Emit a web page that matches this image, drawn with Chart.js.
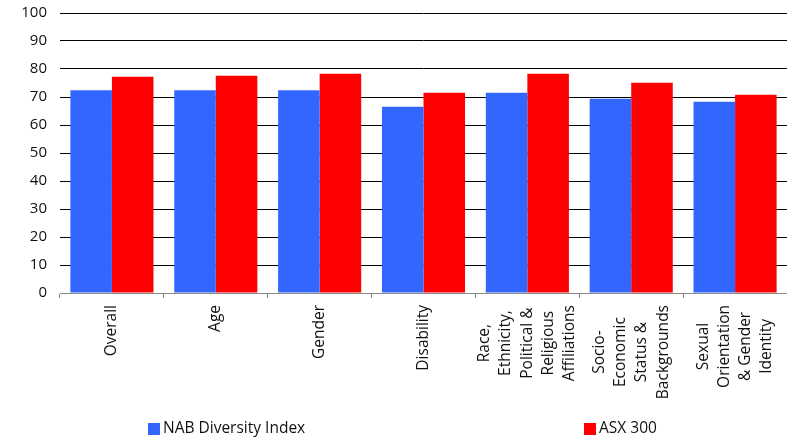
<!DOCTYPE html>
<html>
<head>
<meta charset="utf-8">
<title>Diversity Index</title>
<script src="https://cdn.jsdelivr.net/npm/chart.js@4.4.1/dist/chart.umd.min.js"></script>
<style>
    html, body { margin: 0; padding: 0; background: #fff; }
    #wrap { width: 787px; height: 440px; position: relative; }
</style>
</head>
<body>
<div id="wrap"><canvas id="diversityChart"></canvas></div>
<script>
// Categories (multi-line ones are split where the axis wraps them)
const categories = [
    'Overall',
    'Age',
    'Gender',
    'Disability',
    ['Race,', 'Ethnicity,', 'Political &', 'Religious', 'Affiliations'],
    ['Socio-', 'Economic', 'Status &', 'Backgrounds'],
    ['Sexual', 'Orientation', '& Gender', 'Identity']
];

const nabIndex = [72.4, 72.4, 72.4, 66.5, 71.5, 69.4, 68.3];
const asx300 = [77.2, 77.6, 78.3, 71.5, 78.3, 75.1, 70.8];

const seriesNames = ['NAB Diversity Index', 'ASX 300'];
const seriesColors = ['#3366FF', '#FF0000'];

const yTicks = [0, 10, 20, 30, 40, 50, 60, 70, 80, 90, 100];

const FONT = '"Open Sans", "DejaVu Sans", sans-serif';

// Vertical category labels: block hangs from the axis, lines centred on each other
const verticalLabels = {
    id: 'verticalLabels',
    afterDraw(chart, args, opts) {
        const scale = chart.scales.x;
        const ctx = chart.ctx;
        const top = scale.top + opts.gap;
        ctx.save();
        ctx.font = opts.size + 'px ' + FONT;
        ctx.fillStyle = '#111';
        ctx.textAlign = 'center';
        ctx.textBaseline = 'middle';
        chart.data.labels.forEach((label, i) => {
            const lines = Array.isArray(label) ? label : [label];
            const widest = Math.max(...lines.map(l => ctx.measureText(l).width));
            const cx = scale.getPixelForValue(i);
            const cy = top + widest / 2;
            lines.forEach((line, j) => {
                const x = cx + (j - (lines.length - 1) / 2) * opts.lineHeight;
                ctx.save();
                ctx.translate(x, cy);
                ctx.rotate(-Math.PI / 2);
                ctx.fillText(line, 0, 0);
                ctx.restore();
            });
        });
        ctx.restore();
    }
};

// Legend spread across the bottom with wide gaps between the two items
const spreadLegend = {
    id: 'spreadLegend',
    afterDraw(chart, args, opts) {
        const ctx = chart.ctx;
        ctx.save();
        ctx.font = '15.5px ' + FONT;
        ctx.textBaseline = 'middle';
        chart.data.datasets.forEach((ds, i) => {
            const x = opts.xs[i];
            const y = opts.y;
            ctx.fillStyle = ds.backgroundColor;
            ctx.fillRect(x, y - 6, 12, 12);
            ctx.fillStyle = '#111';
            ctx.fillText(ds.label, x + 15, y);
        });
        ctx.restore();
    }
};

const ctx = document.getElementById('diversityChart').getContext('2d');
new Chart(ctx, {
    type: 'bar',
    data: {
        labels: categories,
        datasets: [
            {
                label: seriesNames[0],
                data: nabIndex,
                backgroundColor: seriesColors[0],
                categoryPercentage: 0.8,
                barPercentage: 1.0
            },
            {
                label: seriesNames[1],
                data: asx300,
                backgroundColor: seriesColors[1],
                categoryPercentage: 0.8,
                barPercentage: 1.0
            }
        ]
    },
    options: {
        responsive: true,
        maintainAspectRatio: false,
        animation: false,
        layout: {
            padding: { top: 13, right: 0, bottom: 0, left: 0 }
        },
        plugins: {
            legend: { display: false },
            tooltip: { enabled: false },
            verticalLabels: { gap: 12, size: 15.5, lineHeight: 21.3 },
            spreadLegend: { xs: [148, 584], y: 429 }
        },
        scales: {
            x: {
                offset: true,
                grid: {
                    display: true,
                    drawOnChartArea: false,
                    offset: true,
                    color: '#888',
                    tickLength: 5
                },
                border: { color: '#888', width: 1 },
                ticks: { display: false, autoSkip: false },
                afterFit(scale) {
                    scale.height = 147;
                    scale.paddingLeft = 0;
                    scale.paddingRight = 0;
                }
            },
            y: {
                min: 0,
                max: 100,
                afterBuildTicks(scale) {
                    scale.ticks = yTicks.map(v => ({ value: v }));
                },
                grid: {
                    color: '#000',
                    lineWidth: 1,
                    drawTicks: false
                },
                border: { display: false },
                ticks: {
                    color: '#111',
                    padding: 13,
                    font: { family: FONT, size: 15 }
                },
                afterFit(scale) {
                    scale.width = 60;
                    scale.paddingTop = 0;
                    scale.paddingBottom = 0;
                }
            }
        }
    },
    plugins: [verticalLabels, spreadLegend]
});
</script>
</body>
</html>
